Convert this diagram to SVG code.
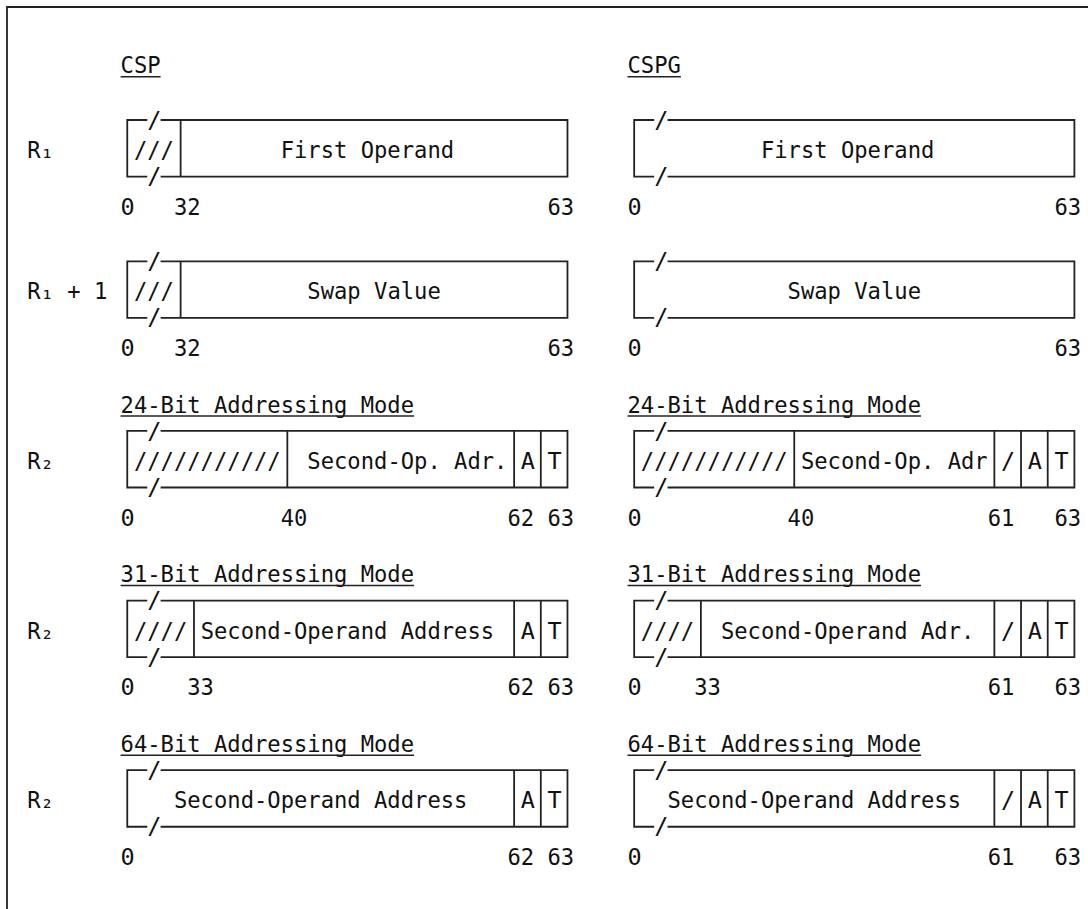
<svg xmlns="http://www.w3.org/2000/svg" width="1088" height="909" viewBox="0 0 1088 909">
<style>
  text { font-family: "DejaVu Sans Mono", "Liberation Mono", monospace; font-size: 23.5px; fill: #111; }
  .ln { fill: none; stroke: #222; stroke-width: 1.8; }
  .ul { fill: none; stroke: #222; stroke-width: 1.5; }
</style>
<defs>
  <g id="brk">
    <text x="0" y="7.6">/</text>
    <text x="0" y="64.1">/</text>
  </g>
</defs>
<rect width="1088" height="909" fill="#fff"/>
<g id="frame"><path class="ln" d="M7 909 V7 H1088"/></g>

<g id="headers">
  <text x="120.59" y="73.3" textLength="40.02" lengthAdjust="spacingAndGlyphs">CSP</text>
  <path class="ul" d="M120.59 76.7 H160.61"/>
  <text x="627.51" y="73.3" textLength="53.36" lengthAdjust="spacingAndGlyphs">CSPG</text>
  <path class="ul" d="M627.51 76.7 H680.87"/>
</g>

<g id="reg-labels">
  <text x="27.21" y="158.11" textLength="26.68" lengthAdjust="spacingAndGlyphs">R₁</text>
  <text x="27.21" y="299.46" textLength="80.04" lengthAdjust="spacingAndGlyphs">R₁ + 1</text>
  <text x="27.21" y="469.08" textLength="26.68" lengthAdjust="spacingAndGlyphs">R₂</text>
  <text x="27.21" y="638.7" textLength="26.68" lengthAdjust="spacingAndGlyphs">R₂</text>
  <text x="27.21" y="808.32" textLength="26.68" lengthAdjust="spacingAndGlyphs">R₂</text>
</g>

<!-- Section 1: R1 -->
<g id="csp-r1" transform="translate(0,120)">
  <path class="ln" d="M147.27 0 H127.26 V56.54 H147.27 M160.61 0 H567.48 V56.54 H160.61 M180.62 0 V56.54"/>
  <use href="#brk" x="147.27"/>
  <text x="133.93" y="38.11" textLength="40.02" lengthAdjust="spacingAndGlyphs">///</text>
  <text x="280.67" y="38.11" textLength="173.42" lengthAdjust="spacingAndGlyphs">First Operand</text>
  <text x="120.59" y="94.65">0</text>
  <text x="173.95" y="94.65" textLength="26.68" lengthAdjust="spacingAndGlyphs">32</text>
  <text x="547.47" y="94.65" textLength="26.68" lengthAdjust="spacingAndGlyphs">63</text>
</g>
<g id="cspg-r1" transform="translate(0,120)">
  <path class="ln" d="M654.19 0 H634.18 V56.54 H654.19 M667.53 0 H1074.4 V56.54 H667.53"/>
  <use href="#brk" x="654.19"/>
  <text x="760.91" y="38.11" textLength="173.42" lengthAdjust="spacingAndGlyphs">First Operand</text>
  <text x="627.51" y="94.65">0</text>
  <text x="1054.39" y="94.65" textLength="26.68" lengthAdjust="spacingAndGlyphs">63</text>
</g>

<!-- Section 2: R1 + 1 -->
<g id="csp-r1p1" transform="translate(0,261.35)">
  <path class="ln" d="M147.27 0 H127.26 V56.54 H147.27 M160.61 0 H567.48 V56.54 H160.61 M180.62 0 V56.54"/>
  <use href="#brk" x="147.27"/>
  <text x="133.93" y="38.11" textLength="40.02" lengthAdjust="spacingAndGlyphs">///</text>
  <text x="307.35" y="38.11" textLength="133.4" lengthAdjust="spacingAndGlyphs">Swap Value</text>
  <text x="120.59" y="94.65">0</text>
  <text x="173.95" y="94.65" textLength="26.68" lengthAdjust="spacingAndGlyphs">32</text>
  <text x="547.47" y="94.65" textLength="26.68" lengthAdjust="spacingAndGlyphs">63</text>
</g>
<g id="cspg-r1p1" transform="translate(0,261.35)">
  <path class="ln" d="M654.19 0 H634.18 V56.54 H654.19 M667.53 0 H1074.4 V56.54 H667.53"/>
  <use href="#brk" x="654.19"/>
  <text x="787.59" y="38.11" textLength="133.4" lengthAdjust="spacingAndGlyphs">Swap Value</text>
  <text x="627.51" y="94.65">0</text>
  <text x="1054.39" y="94.65" textLength="26.68" lengthAdjust="spacingAndGlyphs">63</text>
</g>

<!-- Section 3: 24-bit -->
<g id="csp-r2-24" transform="translate(0,430.97)">
  <text x="120.59" y="-18.43" textLength="293.48" lengthAdjust="spacingAndGlyphs">24-Bit Addressing Mode</text>
  <path class="ul" d="M120.59 -15.03 H414.07"/>
  <path class="ln" d="M147.27 0 H127.26 V56.54 H147.27 M160.61 0 H567.48 V56.54 H160.61 M287.34 0 V56.54 M514.12 0 V56.54 M540.8 0 V56.54"/>
  <use href="#brk" x="147.27"/>
  <text x="133.93" y="38.11" textLength="146.74" lengthAdjust="spacingAndGlyphs">///////////</text>
  <text x="307.35" y="38.11" textLength="200.1" lengthAdjust="spacingAndGlyphs">Second-Op. Adr.</text>
  <text x="520.79" y="38.11">A</text>
  <text x="547.47" y="38.11">T</text>
  <text x="120.59" y="94.65">0</text>
  <text x="280.67" y="94.65" textLength="26.68" lengthAdjust="spacingAndGlyphs">40</text>
  <text x="507.45" y="94.65" textLength="26.68" lengthAdjust="spacingAndGlyphs">62</text>
  <text x="547.47" y="94.65" textLength="26.68" lengthAdjust="spacingAndGlyphs">63</text>
</g>
<g id="cspg-r2-24" transform="translate(0,430.97)">
  <text x="627.51" y="-18.43" textLength="293.48" lengthAdjust="spacingAndGlyphs">24-Bit Addressing Mode</text>
  <path class="ul" d="M627.51 -15.03 H920.99"/>
  <path class="ln" d="M654.19 0 H634.18 V56.54 H654.19 M667.53 0 H1074.4 V56.54 H667.53 M794.26 0 V56.54 M994.36 0 V56.54 M1021.04 0 V56.54 M1047.72 0 V56.54"/>
  <use href="#brk" x="654.19"/>
  <text x="640.85" y="38.11" textLength="146.74" lengthAdjust="spacingAndGlyphs">///////////</text>
  <text x="800.93" y="38.11" textLength="186.76" lengthAdjust="spacingAndGlyphs">Second-Op. Adr</text>
  <text x="1001.03" y="38.11">/</text>
  <text x="1027.71" y="38.11">A</text>
  <text x="1054.39" y="38.11">T</text>
  <text x="627.51" y="94.65">0</text>
  <text x="787.59" y="94.65" textLength="26.68" lengthAdjust="spacingAndGlyphs">40</text>
  <text x="987.69" y="94.65" textLength="26.68" lengthAdjust="spacingAndGlyphs">61</text>
  <text x="1054.39" y="94.65" textLength="26.68" lengthAdjust="spacingAndGlyphs">63</text>
</g>

<!-- Section 4: 31-bit -->
<g id="csp-r2-31" transform="translate(0,600.59)">
  <text x="120.59" y="-18.43" textLength="293.48" lengthAdjust="spacingAndGlyphs">31-Bit Addressing Mode</text>
  <path class="ul" d="M120.59 -15.03 H414.07"/>
  <path class="ln" d="M147.27 0 H127.26 V56.54 H147.27 M160.61 0 H567.48 V56.54 H160.61 M193.96 0 V56.54 M514.12 0 V56.54 M540.8 0 V56.54"/>
  <use href="#brk" x="147.27"/>
  <text x="133.93" y="38.11" textLength="53.36" lengthAdjust="spacingAndGlyphs">////</text>
  <text x="200.63" y="38.11" textLength="293.48" lengthAdjust="spacingAndGlyphs">Second-Operand Address</text>
  <text x="520.79" y="38.11">A</text>
  <text x="547.47" y="38.11">T</text>
  <text x="120.59" y="94.65">0</text>
  <text x="187.29" y="94.65" textLength="26.68" lengthAdjust="spacingAndGlyphs">33</text>
  <text x="507.45" y="94.65" textLength="26.68" lengthAdjust="spacingAndGlyphs">62</text>
  <text x="547.47" y="94.65" textLength="26.68" lengthAdjust="spacingAndGlyphs">63</text>
</g>
<g id="cspg-r2-31" transform="translate(0,600.59)">
  <text x="627.51" y="-18.43" textLength="293.48" lengthAdjust="spacingAndGlyphs">31-Bit Addressing Mode</text>
  <path class="ul" d="M627.51 -15.03 H920.99"/>
  <path class="ln" d="M654.19 0 H634.18 V56.54 H654.19 M667.53 0 H1074.4 V56.54 H667.53 M700.88 0 V56.54 M994.36 0 V56.54 M1021.04 0 V56.54 M1047.72 0 V56.54"/>
  <use href="#brk" x="654.19"/>
  <text x="640.85" y="38.11" textLength="53.36" lengthAdjust="spacingAndGlyphs">////</text>
  <text x="720.89" y="38.11" textLength="253.46" lengthAdjust="spacingAndGlyphs">Second-Operand Adr.</text>
  <text x="1001.03" y="38.11">/</text>
  <text x="1027.71" y="38.11">A</text>
  <text x="1054.39" y="38.11">T</text>
  <text x="627.51" y="94.65">0</text>
  <text x="694.21" y="94.65" textLength="26.68" lengthAdjust="spacingAndGlyphs">33</text>
  <text x="987.69" y="94.65" textLength="26.68" lengthAdjust="spacingAndGlyphs">61</text>
  <text x="1054.39" y="94.65" textLength="26.68" lengthAdjust="spacingAndGlyphs">63</text>
</g>

<!-- Section 5: 64-bit -->
<g id="csp-r2-64" transform="translate(0,770.21)">
  <text x="120.59" y="-18.43" textLength="293.48" lengthAdjust="spacingAndGlyphs">64-Bit Addressing Mode</text>
  <path class="ul" d="M120.59 -15.03 H414.07"/>
  <path class="ln" d="M147.27 0 H127.26 V56.54 H147.27 M160.61 0 H567.48 V56.54 H160.61 M514.12 0 V56.54 M540.8 0 V56.54"/>
  <use href="#brk" x="147.27"/>
  <text x="173.95" y="38.11" textLength="293.48" lengthAdjust="spacingAndGlyphs">Second-Operand Address</text>
  <text x="520.79" y="38.11">A</text>
  <text x="547.47" y="38.11">T</text>
  <text x="120.59" y="94.65">0</text>
  <text x="507.45" y="94.65" textLength="26.68" lengthAdjust="spacingAndGlyphs">62</text>
  <text x="547.47" y="94.65" textLength="26.68" lengthAdjust="spacingAndGlyphs">63</text>
</g>
<g id="cspg-r2-64" transform="translate(0,770.21)">
  <text x="627.51" y="-18.43" textLength="293.48" lengthAdjust="spacingAndGlyphs">64-Bit Addressing Mode</text>
  <path class="ul" d="M627.51 -15.03 H920.99"/>
  <path class="ln" d="M654.19 0 H634.18 V56.54 H654.19 M667.53 0 H1074.4 V56.54 H667.53 M994.36 0 V56.54 M1021.04 0 V56.54 M1047.72 0 V56.54"/>
  <use href="#brk" x="654.19"/>
  <text x="667.53" y="38.11" textLength="293.48" lengthAdjust="spacingAndGlyphs">Second-Operand Address</text>
  <text x="1001.03" y="38.11">/</text>
  <text x="1027.71" y="38.11">A</text>
  <text x="1054.39" y="38.11">T</text>
  <text x="627.51" y="94.65">0</text>
  <text x="987.69" y="94.65" textLength="26.68" lengthAdjust="spacingAndGlyphs">61</text>
  <text x="1054.39" y="94.65" textLength="26.68" lengthAdjust="spacingAndGlyphs">63</text>
</g>

<g id="connectors"></g>
</svg>
